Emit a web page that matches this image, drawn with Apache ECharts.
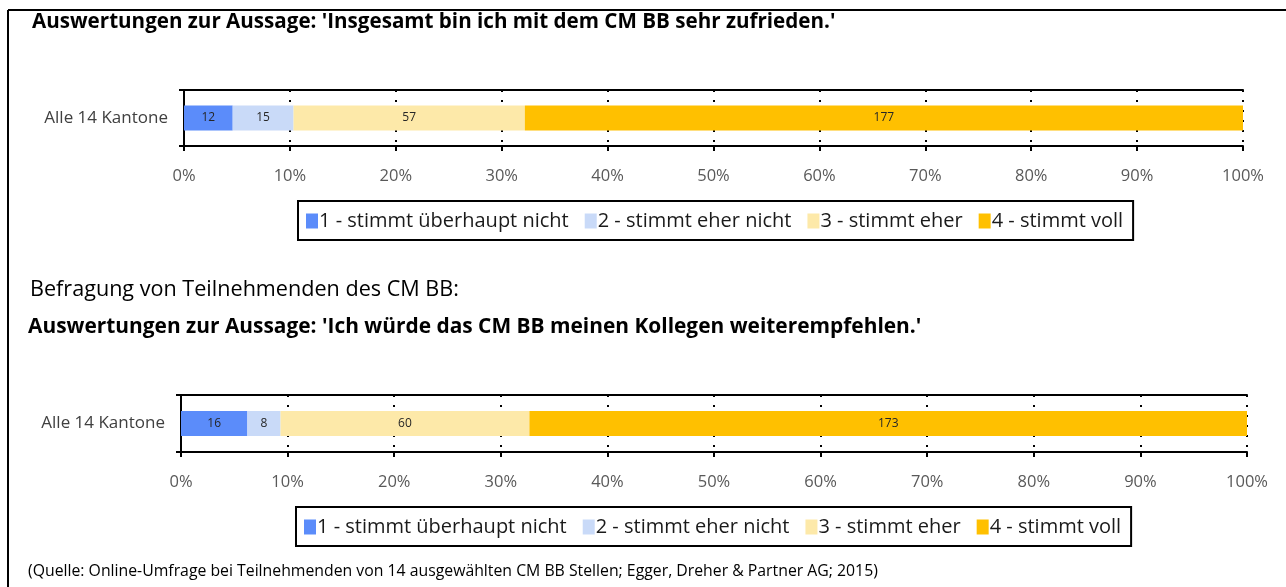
<!DOCTYPE html>
<html>
<head>
<meta charset="utf-8">
<script src="https://cdn.jsdelivr.net/npm/echarts@6/dist/echarts.min.js"></script>
<style>
  html, body { margin: 0; padding: 0; background: #fff; }
  #chart { width: 1286px; height: 587px; }
</style>
</head>
<body>
<div id="chart"></div>
<script>
const categories = ['Alle 14 Kantone'];
const answerNames = ['1 - stimmt überhaupt nicht', '2 - stimmt eher nicht', '3 - stimmt eher', '4 - stimmt voll'];
const answerColors = ['#5B8CFA', '#C9DAF8', '#FDE9A9', '#FFC000'];
// counts per answer, chart 1 (zufrieden) and chart 2 (weiterempfehlen)
const countsSatisfied = [12, 15, 57, 177];
const countsRecommend = [16, 8, 60, 173];

const font = '"Open Sans", "Noto Sans", sans-serif';
const sum = arr => arr.reduce((a, b) => a + b, 0);
const totals = [sum(countsSatisfied), sum(countsRecommend)];

const chart = echarts.init(document.getElementById('chart'));

const grids = [
  { left: 184, right: 43, top: 90, height: 56 },
  { left: 181, right: 39, top: 395, height: 57 }
];

const xAxes = [];
const yAxes = [];
totals.forEach((total, i) => {
  xAxes.push({
    type: 'value', gridIndex: i, min: 0, max: total, interval: total / 10,
    axisLine: { show: true, lineStyle: { color: '#000', width: 2 } },
    axisTick: { show: true, length: 5, lineStyle: { color: '#000', width: 2 } },
    axisLabel: {
      color: '#595959', fontSize: 16.5, fontFamily: font, margin: 22,
      formatter: v => Math.round(v / total * 100) + '%'
    },
    splitLine: { show: true, lineStyle: { color: '#000', width: 2, type: [2, 8] } }
  });
  // top border line of the plot
  xAxes.push({
    type: 'value', gridIndex: i, position: 'top', min: 0, max: total,
    axisLine: { show: true, lineStyle: { color: '#000', width: 2 } },
    axisTick: { show: false }, axisLabel: { show: false }, splitLine: { show: false }
  });
  yAxes.push({
    type: 'category', gridIndex: i, data: categories,
    axisLine: { show: true, lineStyle: { color: '#000', width: 2 } },
    axisTick: { show: true, length: 5, lineStyle: { color: '#000', width: 2 } },
    axisLabel: { color: '#404040', fontSize: 17, fontFamily: font, margin: 16, padding: [7, 0, 0, 0] }
  });
});

const series = [];
[countsSatisfied, countsRecommend].forEach((counts, i) => {
  counts.forEach((c, k) => {
    series.push({
      name: answerNames[k], type: 'bar', stack: 'g' + i,
      xAxisIndex: i * 2, yAxisIndex: i,
      barWidth: 25,
      data: [c],
      itemStyle: { color: answerColors[k] },
      label: { show: true, color: '#262626', fontSize: 12, fontFamily: font }
    });
  });
});

const legendBase = {
  data: answerNames,
  orient: 'horizontal',
  itemWidth: 12, itemHeight: 15, itemGap: 16,
  icon: 'rect',
  borderColor: '#000', borderWidth: 2,
  padding: [10, 10, 9, 8],
  textStyle: { color: '#1a1a1a', fontSize: 20, fontFamily: font, padding: [0, 0, 0, -4] },
  selectedMode: false
};

chart.setOption({
  animation: false,
  grid: grids,
  xAxis: xAxes,
  yAxis: yAxes,
  series: series,
  legend: [
    Object.assign({}, legendBase, { left: 298, top: 201 }),
    Object.assign({}, legendBase, { left: 296, top: 507 })
  ],
  graphic: [
    { type: 'line', shape: { x1: 8, y1: 10, x2: 1286, y2: 10 }, style: { stroke: '#000', lineWidth: 2 } },
    { type: 'line', shape: { x1: 8, y1: 10, x2: 8, y2: 587 }, style: { stroke: '#000', lineWidth: 2 } },
    { type: 'text', left: 32, top: 12, style: {
      text: "Auswertungen zur Aussage: 'Insgesamt bin ich mit dem CM BB sehr zufrieden.'",
      fontSize: 20.6, fontWeight: 'bold', fontFamily: font, fill: '#000' } },
    { type: 'text', left: 30, top: 279, style: {
      text: 'Befragung von Teilnehmenden des CM BB:',
      fontSize: 21.6, fontFamily: font, fill: '#000' } },
    { type: 'text', left: 28, top: 317, style: {
      text: "Auswertungen zur Aussage: 'Ich würde das CM BB meinen Kollegen weiterempfehlen.'",
      fontSize: 20.9, fontWeight: 'bold', fontFamily: font, fill: '#000' } },
    { type: 'text', left: 28, top: 563, style: {
      text: '(Quelle: Online-Umfrage bei Teilnehmenden von 14 ausgewählten CM BB Stellen; Egger, Dreher & Partner AG; 2015)',
      fontSize: 15.8, fontFamily: font, fill: '#000' } }
  ]
});
</script>
</body>
</html>
